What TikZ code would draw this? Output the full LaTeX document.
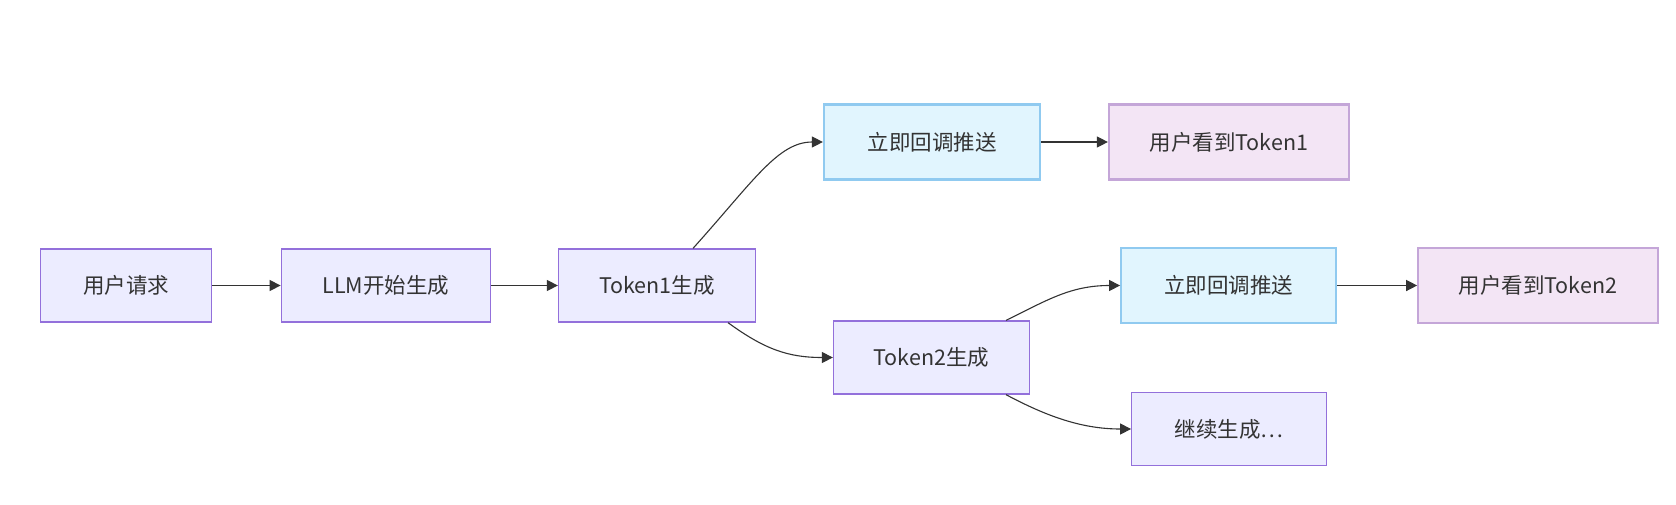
\documentclass[tikz,border=0pt]{standalone}
\usepackage{fontspec}
\setmainfont{Noto Sans CJK SC}
\usetikzlibrary{arrows.meta}
\definecolor{txt}{HTML}{333333}
\definecolor{defFill}{HTML}{ECECFF}
\definecolor{defLine}{HTML}{9370DB}
\definecolor{cyFill}{HTML}{E1F5FE}
\definecolor{cyLine}{HTML}{90CAF0}
\definecolor{puFill}{HTML}{F3E5F5}
\definecolor{puLine}{HTML}{C4A6D8}
\tikzset{
  box/.style={draw=defLine, fill=defFill, line width=1.3pt, minimum height=73pt,
    inner sep=0pt, text=txt, font=\fontsize{21.5}{25}\selectfont},
  cybox/.style={box, draw=cyLine, fill=cyFill, line width=2.2pt, minimum height=75pt},
  pubox/.style={box, draw=puLine, fill=puFill, line width=2.2pt, minimum height=75pt},
  link/.style={draw=txt, line width=1.4pt, -{Triangle[length=11pt,width=11pt]}},
  thinlink/.style={link, line width=1.1pt}
}
\begin{document}
\begin{tikzpicture}[x=1pt,y=-1pt]
\useasboundingbox (0,0) rectangle (1676,504);
\node[box, minimum width=171pt] (n1) at (126,285.5) {用户请求};
\node[box, minimum width=209.5pt] (n2) at (386,285.5) {LLM开始生成};
\node[box, minimum width=197pt] (n3) at (657,285.5) {Token1生成};
\node[cybox, minimum width=216pt] (n4) at (932,142) {立即回调推送};
\node[pubox, minimum width=240pt] (n5) at (1229,142) {用户看到Token1};
\node[box, minimum width=196pt] (n6) at (931.5,357.5) {Token2生成};
\node[cybox, minimum width=215pt] (n7) at (1228.7,285.5) {立即回调推送};
\node[pubox, minimum width=239.5pt] (n8) at (1538,285.5) {用户看到Token2};
\node[box, minimum width=194.5pt] (n9) at (1229,429) {继续生成…};
\coordinate (s34) at ([xshift=36pt]n3.north);
\coordinate (s36) at ([xshift=71pt]n3.south);
\coordinate (s67) at ([xshift=74.5pt]n6.north);
\coordinate (s69) at ([xshift=74.5pt]n6.south);
\draw[link] (n1) -- (n2);
\draw[link] (n2) -- (n3);
\draw[thinlink] (n4) -- (n5);
\draw[link] (n7) -- (n8);
\draw[thinlink] (s34) .. controls +(-48:90) and +(-45,0) .. (n4.west);
\draw[thinlink] (s36) .. controls +(36:45) and +(-45,0) .. (n6.west);
\draw[thinlink] (s67) .. controls +(-26:45) and +(-50,0) .. (n7.west);
\draw[thinlink] (s69) .. controls +(28:45) and +(-50,0) .. (n9.west);
\end{tikzpicture}
\end{document}
